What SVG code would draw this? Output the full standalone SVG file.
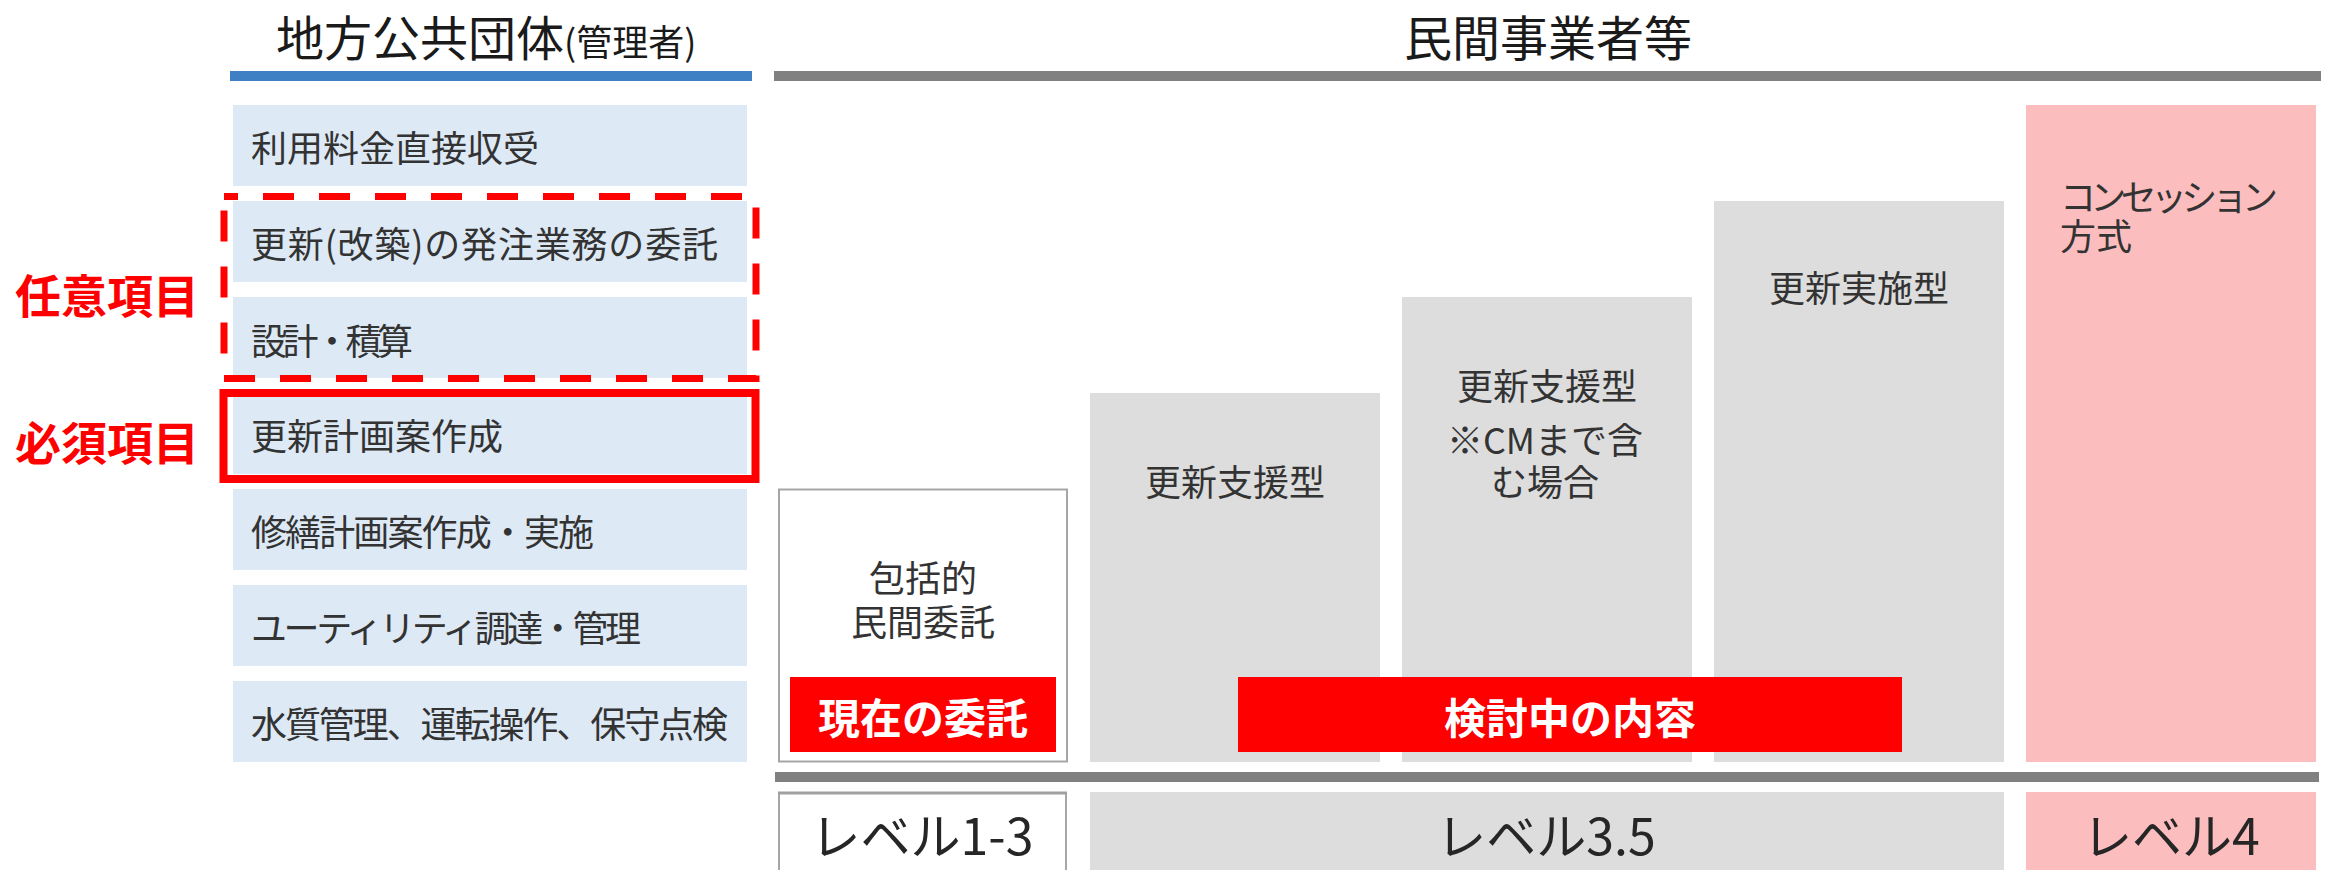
<svg xmlns="http://www.w3.org/2000/svg" width="2329" height="870" viewBox="0 0 2329 870">
<style>
text{font-family:"Noto Sans CJK JP","Noto Sans",sans-serif;}
.title{font-size:48px;fill:#1a1a1a;}
.sub{font-size:36px;}
.item{fill:#DDE9F5;}
.itxt{font-size:36px;fill:#333333;}
.gray{fill:#DDDDDD;}
.pink{fill:#FBBDBD;}
.ctxt{font-size:36px;fill:#333333;text-anchor:middle;}
.lbl{font-size:46px;font-weight:bold;fill:#FF0000;}
.tag{fill:#FF0000;}
.tagtxt{font-size:42px;font-weight:bold;fill:#FFFFFF;text-anchor:middle;}
.lvl{font-size:50px;fill:#262626;text-anchor:middle;}
.bar{fill:#808080;}
</style>

<g id="headers">
  <text class="title" x="276" y="56">地方公共団体<tspan class="sub">(管理者)</tspan></text>
  <rect x="230" y="71" width="522" height="10" fill="#3F80C5"/>
  <text class="title" x="1404" y="56">民間事業者等</text>
  <rect class="bar" x="774" y="71" width="1547" height="10"/>
  <rect class="bar" x="775" y="772" width="1544" height="10"/>
</g>

<g id="items">
  <g id="item1"><rect class="item" x="233" y="105" width="514" height="81"/><text class="itxt" x="251" y="162">利用料金直接収受</text></g>
  <g id="item2"><rect class="item" x="233" y="201" width="514" height="81"/><text class="itxt" x="251" y="258" textLength="467">更新(改築)の発注業務の委託</text></g>
  <g id="item3"><rect class="item" x="233" y="297" width="514" height="81"/><text class="itxt" x="251" y="355" textLength="162">設計・積算</text></g>
  <g id="item4"><rect class="item" x="233" y="393" width="514" height="81"/><text class="itxt" x="251" y="450">更新計画案作成</text></g>
  <g id="item5"><rect class="item" x="233" y="489" width="514" height="81"/><text class="itxt" x="251" y="546" textLength="343">修繕計画案作成・実施</text></g>
  <g id="item6"><rect class="item" x="233" y="585" width="514" height="81"/><text class="itxt" x="251" y="642" textLength="390">ユーティリティ調達・管理</text></g>
  <g id="item7"><rect class="item" x="233" y="681" width="514" height="81"/><text class="itxt" x="251" y="738" textLength="477">水質管理、運転操作、保守点検</text></g>
</g>

<g id="optional">
  <rect x="224" y="196.5" width="532" height="182" fill="none" stroke="#FF0000" stroke-width="7" stroke-dasharray="31 25" stroke-dashoffset="17"/>
  <text class="lbl" x="15" y="313">任意項目</text>
</g>
<g id="required">
  <rect x="223.5" y="393" width="532" height="86" fill="none" stroke="#FF0000" stroke-width="8"/>
  <text class="lbl" x="15" y="460">必須項目</text>
</g>

<g id="col1">
  <rect x="779" y="489.5" width="288" height="272" fill="#FFFFFF" stroke="#A6A6A6" stroke-width="2"/>
  <text class="ctxt" x="923" y="592">包括的<tspan x="923" dy="44">民間委託</tspan></text>
</g>
<g id="col2">
  <rect class="gray" x="1090" y="393" width="290" height="369"/>
  <text class="ctxt" x="1235" y="496">更新支援型</text>
</g>
<g id="col3">
  <rect class="gray" x="1402" y="297" width="290" height="465"/>
  <text class="ctxt" x="1547" y="400">更新支援型<tspan x="1545" dy="54">※CMまで含</tspan><tspan x="1545" dy="42">む場合</tspan></text>
</g>
<g id="col4">
  <rect class="gray" x="1714" y="201" width="290" height="561"/>
  <text class="ctxt" x="1859" y="302">更新実施型</text>
</g>
<g id="col5">
  <rect class="pink" x="2026" y="105" width="290" height="657"/>
  <text class="itxt" x="2060" y="211"><tspan textLength="218">コンセッション</tspan><tspan x="2060" dy="39">方式</tspan></text>
</g>

<g id="tag-current">
  <rect class="tag" x="790" y="677" width="266" height="75"/>
  <text class="tagtxt" x="923" y="734">現在の委託</text>
</g>
<g id="tag-review">
  <rect class="tag" x="1238" y="677" width="664" height="75"/>
  <text class="tagtxt" x="1570" y="734">検討中の内容</text>
</g>

<g id="level1">
  <rect x="779" y="793" width="287" height="90" fill="#FFFFFF" stroke="#A6A6A6" stroke-width="2"/>
  <line x1="778" y1="793" x2="1067" y2="793" stroke="#A0A0A0" stroke-width="3"/>
  <text class="lvl" x="922" y="855">レベル1-3</text>
</g>
<g id="level35">
  <rect class="gray" x="1090" y="792" width="914" height="78"/>
  <text class="lvl" x="1546" y="855">レベル3.5</text>
</g>
<g id="level4">
  <rect class="pink" x="2026" y="792" width="290" height="78"/>
  <text class="lvl" x="2171" y="855">レベル4</text>
</g>

<g id="connectors"></g>
</svg>
